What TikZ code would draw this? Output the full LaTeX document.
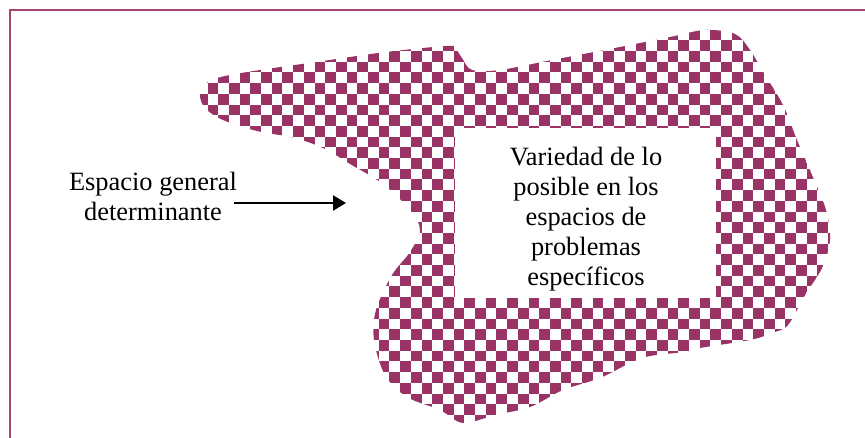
\documentclass[tikz,border=0pt]{standalone}
\usepackage{fontspec}
\setmainfont{Liberation Serif}
\usepackage{tikz}
\usetikzlibrary{arrows.meta, calc}
\definecolor{checkcol}{RGB}{153,51,102}
\definecolor{framecol}{RGB}{165,70,112}
\newcommand{\cellsz}{10.7}

\begin{document}
\begin{tikzpicture}[x=1pt, y=-1pt,
    lbl/.style={font=\fontsize{26.4}{30}\selectfont, align=center, inner sep=0pt}]
    \useasboundingbox (0,0) rectangle (865,438);

    % Frame
    \draw[framecol, line width=1.5pt] (10,10) rectangle (900,480);

    % Checkered space
    \begin{scope}
        \clip plot[smooth cycle, tension=0.55] coordinates {
            (200,94) (208,82) (225,76) (260,70) (309,63) (386,52) (447,46)
            (455,48) (462,58) (472,70) (500,70) (552,60) (620,47) (670,37)
            (705,30) (735,34) (750,50) (765,75) (783,105) (797,140) (812,175)
            (826,210) (830,240) (822,268) (805,295) (788,325) (772,333)
            (750,340) (700,348) (684,352) (650,356) (630,363) (600,378)
            (563,390) (530,407) (495,415) (463,423) (440,410) (407,397)
            (385,375) (374,340) (376,310) (392,275) (410,252) (420,230)
            (410,210) (383,184) (350,164) (325,149) (295,138) (257,131)
            (223,120) (205,108)};
        \foreach \j in {-10,...,28} {
            \pgfmathtruncatemacro{\is}{-25+mod(\j+100,2)}
            \pgfmathtruncatemacro{\isn}{\is+2}
            \foreach \i in {\is,\isn,...,37}
                \fill[checkcol] ({453.6+\i*\cellsz},{126+\j*\cellsz})
                    rectangle +(\cellsz,\cellsz);
        }
    \end{scope}

    % Specific problem spaces
    \node[fill=white, minimum width=261pt, minimum height=170pt, inner sep=0pt]
        (box) at (585.5,213) {};
    \begin{scope}
        \clip (box.north west) rectangle ([yshift=8pt]box.south east);
        \node[lbl] (variedad) at (586,219)
            {Variedad de lo\\posible en los\\espacios de\\problemas\\específicos};
    \end{scope}

    % General space label
    \node[lbl] (general) at (153,196) {Espacio general\\determinante};
    \coordinate (arrowtip) at (346,203);
    \draw[line width=2.4pt, -{Triangle[length=13pt, width=15pt]}]
        ([xshift=-3pt]general.east |- arrowtip) -- (arrowtip);
\end{tikzpicture}
\end{document}
